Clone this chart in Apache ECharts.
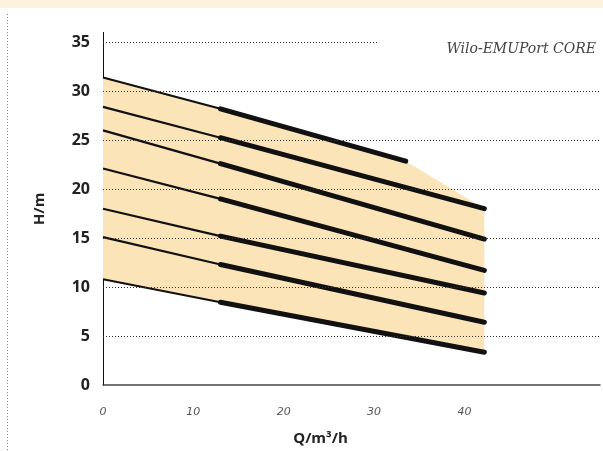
<!DOCTYPE html>
<html>
<head>
<meta charset="utf-8">
<script src="https://cdn.jsdelivr.net/npm/echarts@6/dist/echarts.min.js"></script>
<style>
  html, body { margin: 0; padding: 0; background: #fff; }
  #chart { width: 603px; height: 451px; }
</style>
</head>
<body>
<div id="chart"></div>
<script>
// Pump curves: Q (m3/h) vs H (m)
// each curve: thin from Q=0 to the knee, thick from the knee to its end
const kneeQ = 13
const headAtZero = [31.4, 28.4, 26.0, 22.1, 18.0, 15.1, 10.8]
const headAtKnee = [28.2, 25.25, 22.6, 19.0, 15.2, 12.3, 8.45]
const endQ = [33.5, 42.2, 42.2, 42.2, 42.2, 42.2, 42.2]
const headAtEnd = [22.85, 18.0, 14.9, 11.7, 9.4, 6.4, 3.35]

const xTickLabels = [0, 10, 20, 30, 40]
const gridValues = [5, 10, 15, 20, 25, 30, 35]
const gridEndQ = [55, 55, 55, 55, 55, 55, 30.4]

const fillColor = '#fbe5b8'
const lineColor = '#111'

// envelope of the operating field: top curve, then down to curve 2 end, curve 7 back
const last = headAtZero.length - 1
const envelope = [
  [0, headAtZero[0]], [kneeQ, headAtKnee[0]], [endQ[0], headAtEnd[0]],
  [endQ[1], headAtEnd[1]],
  [endQ[last], headAtEnd[last]], [kneeQ, headAtKnee[last]], [0, headAtZero[last]]
]

const series = [{
  type: 'custom',
  z: 1,
  silent: true,
  data: [0],
  renderItem(params, api) {
    const pts = envelope.map(p => api.coord(p))
    return { type: 'polygon', shape: { points: pts }, style: { fill: fillColor } }
  },
  markLine: {
    silent: true,
    symbol: 'none',
    label: { show: false },
    lineStyle: { type: [1, 2], color: '#333', width: 1 },
    data: gridValues.map((v, i) => [{ coord: [0, v] }, { coord: [gridEndQ[i], v] }])
  }
}]

headAtZero.forEach((h0, i) => {
  series.push({
    type: 'line', z: 3, showSymbol: false, silent: true,
    lineStyle: { color: lineColor, width: 2.2 },
    data: [[0, h0], [kneeQ, headAtKnee[i]]]
  })
  series.push({
    type: 'line', z: 3, showSymbol: false, silent: true,
    lineStyle: { color: lineColor, width: 5, cap: 'round' },
    data: [[kneeQ, headAtKnee[i]], [endQ[i], headAtEnd[i]]]
  })
})

const chart = echarts.init(document.getElementById('chart'))
chart.setOption({
  animation: false,
  title: {
    text: 'Wilo-EMUPort CORE',
    right: 2,
    top: 37,
    textStyle: {
      fontFamily: 'DejaVu Serif', fontStyle: 'italic', fontWeight: 'normal',
      fontSize: 14, color: '#444'
    }
  },
  graphic: [
    { type: 'rect', left: 0, top: 0, shape: { width: 603, height: 8 }, style: { fill: '#fdf2de' } },
    { type: 'line', shape: { x1: 7.5, y1: 14, x2: 7.5, y2: 451 },
      style: { stroke: '#888', lineWidth: 1, lineDash: [1, 2] } }
  ],
  grid: { left: 103, right: 0, top: 32.4, bottom: 60.3, containLabel: false },
  xAxis: {
    type: 'value', min: 0, max: 55, interval: 10,
    name: 'Q/m³/h', nameLocation: 'middle', nameGap: 46,
    nameTextStyle: { fontFamily: 'Open Sans', fontWeight: 'bold', fontSize: 15, color: '#222', padding: [0, 62, 0, 0] },
    axisLine: { show: true, lineStyle: { color: '#444', width: 1.5 } },
    axisTick: { show: false },
    splitLine: { show: false },
    axisLabel: {
      margin: 22,
      fontFamily: 'DejaVu Sans', fontStyle: 'italic', fontWeight: 'normal', fontSize: 11, color: '#555',
      formatter: v => (xTickLabels.includes(v) ? String(v) : '')
    }
  },
  yAxis: {
    type: 'value', min: 0, max: 36, interval: 5,
    name: 'H/m', nameLocation: 'middle', nameGap: 56, nameRotate: 90,
    nameTextStyle: { fontFamily: 'Open Sans', fontWeight: 'bold', fontSize: 15, color: '#222' },
    axisLine: { show: true, lineStyle: { color: '#111', width: 1 } },
    axisTick: { show: false },
    splitLine: { show: false },
    axisLabel: {
      margin: 13, showMaxLabel: false,
      fontFamily: 'Open Sans', fontWeight: 'bold', fontSize: 16, color: '#222',
      formatter: v => (v % 5 === 0 ? String(v) : '')
    }
  },
  series
})
</script>
</body>
</html>
